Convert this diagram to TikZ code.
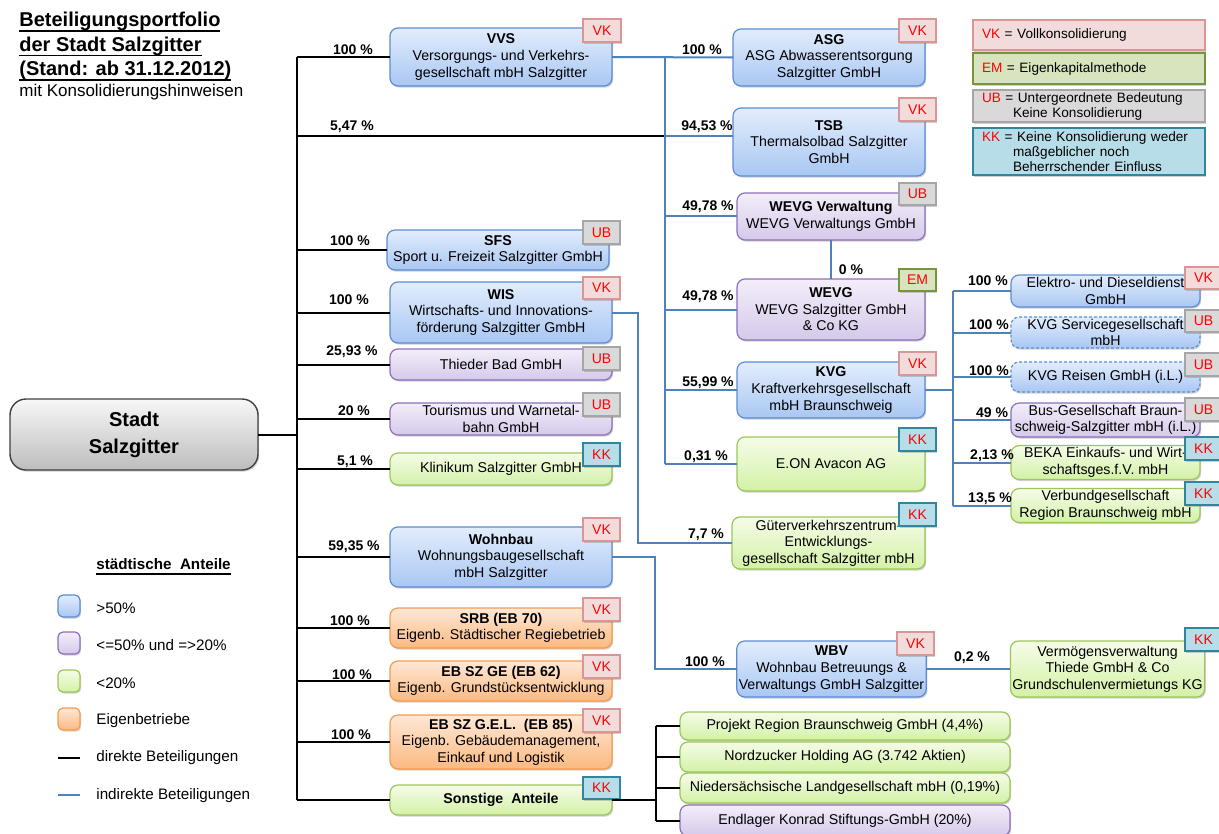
\documentclass[tikz,border=0pt]{standalone}
\usepackage{fontspec}
\setmainfont{Liberation Sans}
\usetikzlibrary{shadows}
\definecolor{bTop}{HTML}{E2EDFC}\definecolor{bBot}{HTML}{A9C7F3}\definecolor{bDraw}{HTML}{5B8DD6}
\definecolor{pTop}{HTML}{F3EEF9}\definecolor{pBot}{HTML}{D5C9EA}\definecolor{pDraw}{HTML}{8D6FBA}
\definecolor{gTop}{HTML}{F5FCE8}\definecolor{gBot}{HTML}{D3F1A6}\definecolor{gDraw}{HTML}{9CC65A}
\definecolor{oTop}{HTML}{FEE8D6}\definecolor{oBot}{HTML}{FBB980}\definecolor{oDraw}{HTML}{F59B4D}
\definecolor{sTop}{HTML}{F7F7F7}\definecolor{sBot}{HTML}{BDBDBD}\definecolor{sDraw}{HTML}{404040}
\definecolor{vkF}{HTML}{F2DCDB}\definecolor{vkD}{HTML}{D99694}
\definecolor{ubF}{HTML}{D9D9D9}\definecolor{ubD}{HTML}{A6A6A6}
\definecolor{kkF}{HTML}{B7DEE8}\definecolor{kkD}{HTML}{31859C}
\definecolor{emF}{HTML}{D7E4BD}\definecolor{emD}{HTML}{77933C}
\definecolor{iCol}{HTML}{4F81BD}
\newcommand\ft{\fontsize{7.1}{8.3}\selectfont}
\newcommand\bx[7]{\node[#1, minimum width={(#5-#3)*0.5pt}, minimum height={(#6-#4)*0.5pt}] (#2) at ({(#3+#5)/2},{(#4+#6)/2}) {#7};}
\newcommand\myul[1]{\setbox0=\hbox{#1}\leavevmode\rlap{\rule[-2.6pt]{\wd0}{0.9pt}}\box0}
\newcommand\rd[1]{\textcolor{red}{#1}}
\begin{document}
\begin{tikzpicture}[x=0.5pt,y=-0.5pt,
  shd/.style={drop shadow={shadow xshift=0.6pt, shadow yshift=-0.8pt, opacity=0.3, fill=black!60}},
  box/.style={rounded corners=4pt, inner sep=1pt, outer sep=0pt, align=center, font=\ft, line width=0.6pt, shd},
  bbox/.style={box, draw=bDraw, top color=bTop, bottom color=bBot},
  pbox/.style={box, draw=pDraw, top color=pTop, bottom color=pBot},
  gbox/.style={box, draw=gDraw, top color=gTop, bottom color=gBot},
  obox/.style={box, draw=oDraw, top color=oTop, bottom color=oBot},
  dbox/.style={bbox, dash pattern=on 1.5pt off 1pt},
  badge/.style={inner sep=0pt, outer sep=0pt, font=\fontsize{7}{8}\selectfont, text=red, line width=0.6pt, shd},
  bVK/.style={badge, fill=vkF, draw=vkD},
  bUB/.style={badge, fill=ubF, draw=ubD},
  bKK/.style={badge, fill=kkF, draw=kkD},
  bEM/.style={badge, fill=emF, draw=emD},
  pct/.style={font=\fontsize{7}{8}\selectfont\bfseries, inner sep=0pt},
  dl/.style={line width=1pt, black},
  il/.style={line width=1pt, iCol},
  legbox/.style={inner xsep=4.5pt, inner ysep=0pt, outer sep=0pt, align=left, font=\fontsize{6.8}{7.5}\selectfont, line width=0.6pt, text width=107pt, minimum width=116pt, shd},
  legt/.style={font=\fontsize{7.6}{9}\selectfont, anchor=west, inner sep=0pt},
  sq/.style={rounded corners=2.5pt, minimum width=11pt, minimum height=11pt, inner sep=0pt, line width=0.6pt, shd}
]
\useasboundingbox (0,0) rectangle (1219,834);

% title
\node[anchor=north west, inner sep=0pt, align=left, font=\fontsize{10}{12.2}\selectfont\bfseries] (title) at (19,12)
  {\myul{Beteiligungsportfolio}\\\myul{der Stadt Salzgitter}\\\myul{(Stand: ab 31.12.2012)}};
\node[anchor=base west, inner sep=0pt, font=\fontsize{8.5}{10}\selectfont] (subtitle) at (19,97) {mit Konsolidierungshinweisen};

% legend top right
\node[legbox, fill=vkF, draw=vkD, minimum height=15pt] (lvk) at (1089,35) {\rd{VK} = Vollkonsolidierung};
\node[legbox, fill=emF, draw=emD, minimum height=15.5pt] (lem) at (1089,68.5) {\rd{EM} = Eigenkapitalmethode};
\node[legbox, fill=ubF, draw=ubD, minimum height=16pt] (lub) at (1089,106) {\rd{UB} = Untergeordnete Bedeutung\\\hspace*{15.5pt}Keine Konsolidierung};
\node[legbox, fill=kkF, draw=kkD, minimum height=23.5pt] (lkk) at (1089,151.5) {\rd{KK} = Keine Konsolidierung weder\\\hspace*{15.5pt}maßgeblicher noch\\\hspace*{15.5pt}Beherrschender Einfluss};

% Stadt
\node[rounded corners=8pt, draw=sDraw, line width=0.7pt, top color=sTop, bottom color=sBot, shd, align=center,
  font=\fontsize{10}{13.5}\selectfont\bfseries, minimum width=124pt, minimum height=35.5pt, inner sep=0pt, outer sep=0pt]
  (stadt) at (134,434.5) {Stadt\\Salzgitter};

% main column
\bx{bbox}{vvs}{390}{28}{612}{86}{\textbf{VVS}\\Versorgungs- und Verkehrs-\\gesellschaft mbH Salzgitter}
\bx{bbox}{sfs}{387}{230}{609}{270}{\textbf{SFS}\\Sport u. Freizeit Salzgitter GmbH}
\bx{bbox}{wis}{390}{282}{612}{343}{\textbf{WIS}\\Wirtschafts- und Innovations-\\förderung Salzgitter GmbH}
\bx{pbox}{thieder}{390}{349}{612}{380}{Thieder Bad GmbH}
\bx{pbox}{tour}{390}{403}{612}{435}{Tourismus und Warnetal-\\bahn GmbH}
\bx{gbox}{klinik}{390}{453}{612}{485}{Klinikum Salzgitter GmbH}
\bx{bbox}{wohnbau}{390}{527}{612}{587}{\textbf{Wohnbau}\\Wohnungsbaugesellschaft\\mbH Salzgitter}
\bx{obox}{srb}{390}{608}{612}{648}{\textbf{SRB (EB 70)}\\Eigenb. Städtischer Regiebetrieb}
\bx{obox}{ebge}{390}{661}{612}{701}{\textbf{EB SZ GE (EB 62)}\\Eigenb. Grundstücksentwicklung}
\bx{obox}{ebgel}{390}{715}{612}{769}{\textbf{EB SZ G.E.L.\ \ (EB 85)}\\Eigenb. Gebäudemanagement,\\Einkauf und Logistik}
\bx{gbox}{sonst}{390}{785}{612}{815}{\textbf{Sonstige\ \ Anteile}}

% second column
\bx{bbox}{asg}{733}{29}{925}{86}{\textbf{ASG}\\ASG Abwasserentsorgung\\Salzgitter GmbH}
\bx{bbox}{tsb}{733}{108}{925}{176}{\textbf{TSB}\\Thermalsolbad Salzgitter\\GmbH}
\bx{pbox}{wevgv}{737}{193}{925}{240}{\textbf{WEVG Verwaltung}\\WEVG Verwaltungs GmbH}
\bx{pbox}{wevg}{737}{279}{925}{340}{\textbf{WEVG}\\WEVG Salzgitter GmbH\\\& Co KG}
\bx{bbox}{kvg}{737}{362}{925}{418}{\textbf{KVG}\\Kraftverkehrsgesellschaft\\mbH Braunschweig}
\bx{gbox}{eon}{737}{437}{925}{491}{E.ON Avacon AG}
\bx{gbox}{gvz}{732}{517}{925}{569}{Güterverkehrszentrum-\\Entwicklungs-\\gesellschaft Salzgitter mbH}
\bx{bbox}{wbv}{738}{641}{925}{697}{\textbf{WBV}\\Wohnbau Betreuungs \&\\Verwaltungs GmbH Salzgitter}
\bx{gbox}{verm}{1012}{641}{1203}{697}{Vermögensverwaltung\\Thiede GmbH \& Co\\Grundschulenvermietungs KG}

% KVG subsidiaries
\bx{bbox}{elektro}{1011}{275}{1200}{307}{Elektro- und Dieseldienst\\GmbH}
\bx{dbox}{kvgs}{1011}{317}{1200}{348}{KVG Servicegesellschaft\\mbH}
\bx{dbox}{kvgr}{1011}{362}{1200}{392}{KVG Reisen GmbH (i.L.)}
\bx{pbox}{bus}{1011}{405}{1200}{435}{Bus-Gesellschaft Braun-\\schweig-Salzgitter mbH (i.L.)}
\bx{gbox}{beka}{1011}{447}{1200}{478}{BEKA Einkaufs- und Wirt-\\schaftsges.f.V. mbH}
\bx{gbox}{verbund}{1011}{489}{1200}{522}{Verbundgesellschaft\\Region Braunschweig mbH}

% Sonstige children
\bx{gbox}{projekt}{680}{712}{1010}{740}{Projekt Region Braunschweig GmbH (4,4\%)}
\bx{gbox}{nordz}{680}{742}{1010}{772}{Nordzucker Holding AG (3.742 Aktien)}
\bx{gbox}{nieder}{680}{773}{1010}{803}{Niedersächsische Landgesellschaft mbH (0,19\%)}
\bx{pbox}{endl}{680}{805}{1010}{836}{Endlager Konrad Stiftungs-GmbH (20\%)}

% badges
\bx{bVK}{kvvs}{583}{19}{621}{42}{VK}
\bx{bUB}{ksfs}{583}{221}{620}{244}{UB}
\bx{bVK}{kwis}{583}{277}{620}{299}{VK}
\bx{bUB}{kthieder}{583}{347}{620}{370}{UB}
\bx{bUB}{ktour}{583}{393}{620}{416}{UB}
\bx{bKK}{kklinik}{583}{443}{620}{466}{KK}
\bx{bVK}{kwohnbau}{583}{518}{620}{541}{VK}
\bx{bVK}{ksrb}{583}{598}{620}{621}{VK}
\bx{bVK}{kebge}{583}{655}{620}{678}{VK}
\bx{bVK}{kebgel}{583}{709}{620}{732}{VK}
\bx{bKK}{ksonst}{583}{777}{620}{799}{KK}
\bx{bVK}{kasg}{899}{19}{936}{42}{VK}
\bx{bVK}{ktsb}{899}{98}{936}{121}{VK}
\bx{bUB}{kwevgv}{899}{183}{936}{205}{UB}
\bx{bEM}{kwevg}{899}{269}{936}{291}{EM}
\bx{bVK}{kkvg}{899}{352}{936}{375}{VK}
\bx{bKK}{keon}{899}{428}{936}{451}{KK}
\bx{bKK}{kgvz}{899}{503}{936}{526}{KK}
\bx{bVK}{kwbv}{897}{632}{934}{655}{VK}
\bx{bKK}{kverm}{1185}{628}{1222}{651}{KK}
\bx{bVK}{kelektro}{1185}{267}{1222}{289}{VK}
\bx{bUB}{kkvgs}{1185}{310}{1222}{332}{UB}
\bx{bUB}{kkvgr}{1185}{353}{1222}{376}{UB}
\bx{bUB}{kbus}{1185}{398}{1222}{421}{UB}
\bx{bKK}{kbeka}{1185}{437}{1222}{460}{KK}
\bx{bKK}{kverbund}{1185}{482}{1222}{505}{KK}

% direct connections (black)
\coordinate (tTop) at (297,57);
\coordinate (tBot) at (297,802);
\draw[dl] (tTop) -- (tBot |- sonst.west);
\draw[dl] (stadt.east) -- (stadt.east -| tTop);
\foreach \n in {vvs,sfs,wis,thieder,tour,klinik,wohnbau,srb,ebge,ebgel,sonst}
  \draw[dl] (tTop |- \n.west) -- (\n.west);
\coordinate (j547) at (297,136);
\coordinate (v547) at (665,136);
\draw[dl] (j547) -- (v547);

% indirect (blue) from VVS
\coordinate (vTop) at (665,57);
\draw[il] (vvs.east) -- (asg.west);
\draw[il] (vTop) -- (vTop |- eon.west);
\draw[il] (v547) -- (tsb.west |- v547);
\foreach \n in {wevgv,wevg,kvg,eon}
  \draw[il] (vTop |- \n.west) -- (\n.west);
\draw[il] (wevgv.south) -- (wevg.north);

% WIS -> GVZ
\coordinate (gx) at (638,0);
\draw[il] (wis.east) -- (wis.east -| gx) |- (gvz.west);
% Wohnbau -> WBV -> Verm
\coordinate (wx) at (655,0);
\draw[il] (wohnbau.east) -- (wohnbau.east -| wx) |- (wbv.west);
\draw[il] (wbv.east) -- (verm.west);

% KVG -> subsidiaries
\coordinate (kx) at (953,0);
\draw[il] (kvg.east) -- (kvg.east -| kx);
\draw[il] (kx |- elektro.west) -- (kx |- verbund.west);
\foreach \n in {elektro,kvgs,kvgr,bus,beka,verbund}
  \draw[il] (kx |- \n.west) -- (\n.west);

% Sonstige -> children
\coordinate (sx) at (656,0);
\draw[dl] (sonst.east) -- (sonst.east -| sx);
\draw[dl] (sx |- projekt.west) -- (sx |- endl.west);
\foreach \n in {projekt,nordz,nieder,endl}
  \draw[dl] (sx |- \n.west) -- (\n.west);

% percentage labels
\node[pct] (p01) at (353,50) {100 \%};
\node[pct] (p02) at (352,127) {5,47 \%};
\node[pct] (p03) at (702,50) {100 \%};
\node[pct] (p04) at (707,127) {94,53 \%};
\node[pct] (p05) at (350,241) {100 \%};
\node[pct] (p06) at (349,300) {100 \%};
\node[pct] (p07) at (352,352) {25,93 \%};
\node[pct] (p08) at (708,207) {49,78 \%};
\node[pct] (p09) at (708,297) {49,78 \%};
\node[pct] (p10) at (708,383) {55,99 \%};
\node[pct] (p11) at (851,270) {0 \%};
\node[pct] (p12) at (354,411) {20 \%};
\node[pct] (p13) at (355,462) {5,1 \%};
\node[pct] (p14) at (354,547) {59,35 \%};
\node[pct] (p15) at (706,457) {0,31 \%};
\node[pct] (p16) at (706,535) {7,7 \%};
\node[pct] (p17) at (350,621) {100 \%};
\node[pct] (p18) at (352,675) {100 \%};
\node[pct] (p19) at (351,735) {100 \%};
\node[pct] (p20) at (705,662) {100 \%};
\node[pct] (p21) at (972,658) {0,2 \%};
\node[pct] (p22) at (988,281) {100 \%};
\node[pct] (p23) at (989,325) {100 \%};
\node[pct] (p24) at (989,371) {100 \%};
\node[pct] (p25) at (992,413) {49 \%};
\node[pct] (p26) at (992,456) {2,13 \%};
\node[pct] (p27) at (990,499) {13,5 \%};

% legend bottom left
\node[legt, font=\fontsize{7.6}{9}\selectfont\bfseries] (lt) at (96,567) {\myul{städtische\ \ Anteile}};
\node[sq, draw=bDraw, top color=bTop, bottom color=bBot] (sq1) at (69,606) {};
\node[sq, draw=pDraw, top color=pTop, bottom color=pBot] (sq2) at (69,643) {};
\node[sq, draw=gDraw, top color=gTop, bottom color=gBot] (sq3) at (69,681) {};
\node[sq, draw=oDraw, top color=oTop, bottom color=oBot] (sq4) at (69,719) {};
\node[legt] (lt1) at (96,608) {>50\%};
\node[legt] (lt2) at (96,645) {<=50\% und =>20\%};
\node[legt] (lt3) at (96,683) {<20\%};
\node[legt] (lt4) at (96,721) {Eigenbetriebe};
\node[legt] (lt5) at (96,758) {direkte Beteiligungen};
\node[legt] (lt6) at (96,796) {indirekte Beteiligungen};
\coordinate (ld1a) at (58,758); \coordinate (ld1b) at (80,758);
\coordinate (ld2a) at (58,795); \coordinate (ld2b) at (80,795);
\draw[dl] (ld1a) -- (ld1b);
\draw[il] (ld2a) -- (ld2b);
\end{tikzpicture}
\end{document}
